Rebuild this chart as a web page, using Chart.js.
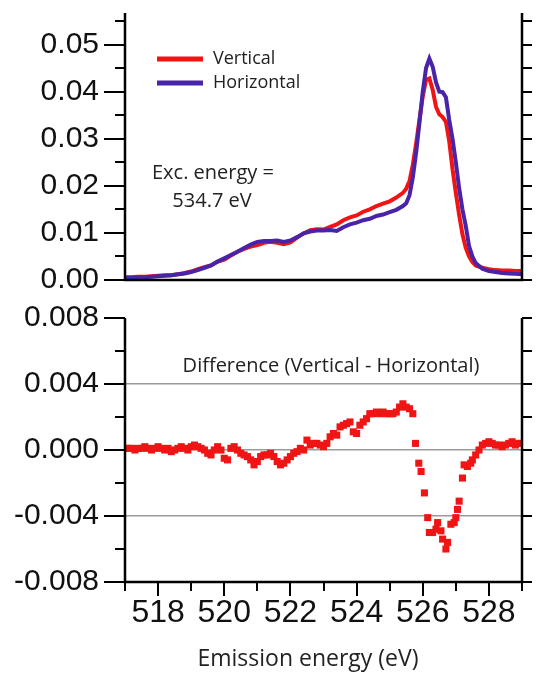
<!DOCTYPE html>
<html lang="en">
<head>
<meta charset="UTF-8">
<title>Emission spectra - Vertical vs Horizontal</title>
<script src="https://cdn.jsdelivr.net/npm/chart.js@4"></script>
<style>
    body { margin: 0; background: #fff; }
    #wrap { position: relative; width: 540px; height: 675px; }
    #wrap canvas { position: absolute; left: 0; }
    #spectra { top: 0; }
    #diff { top: 300px; }
</style>
</head>
<body>
<div id="wrap">
    <canvas id="spectra" width="540" height="300"></canvas>
    <canvas id="diff" width="540" height="375"></canvas>
</div>
<script>
// ---- data ----
const energy = [517.0, 517.2, 517.4, 517.6, 517.8, 518.0, 518.2, 518.4, 518.6, 518.8,
    519.0, 519.2, 519.4, 519.6, 519.8, 520.0, 520.2, 520.4, 520.6, 520.8,
    521.0, 521.2, 521.4, 521.6, 521.8, 522.0, 522.2, 522.4, 522.6, 522.8,
    523.0, 523.2, 523.4, 523.6, 523.8, 524.0, 524.2, 524.4, 524.6, 524.8,
    525.0, 525.2, 525.4, 525.5, 525.6, 525.7, 525.8, 525.9, 526.0, 526.1,
    526.2, 526.3, 526.4, 526.5, 526.6, 526.7, 526.8, 526.9, 527.0, 527.1,
    527.2, 527.3, 527.4, 527.5, 527.6, 527.8, 528.0, 528.2, 528.4, 528.6,
    528.8, 529.0];

const vertical = [0.0006, 0.0006, 0.0007, 0.0007, 0.0008, 0.0009, 0.0010, 0.0010, 0.0012, 0.0015,
    0.0018, 0.0023, 0.0027, 0.0031, 0.0039, 0.0043, 0.0052, 0.0060, 0.0066, 0.0071,
    0.0074, 0.0079, 0.0081, 0.0079, 0.0076, 0.0080, 0.0090, 0.0099, 0.0106, 0.0108,
    0.0107, 0.0113, 0.0118, 0.0127, 0.0133, 0.0137, 0.0145, 0.0150, 0.0157, 0.0162,
    0.0167, 0.0175, 0.0185, 0.0194, 0.0210, 0.0245, 0.0290, 0.0340, 0.0390, 0.0425,
    0.0428, 0.0404, 0.0368, 0.0352, 0.0346, 0.0336, 0.0295, 0.0235, 0.0185, 0.0138,
    0.0097, 0.0068, 0.0050, 0.0038, 0.0031, 0.0026, 0.0023, 0.0021, 0.0020, 0.0020,
    0.0019, 0.0019];

const horizontal = [0.0005, 0.0005, 0.0006, 0.0006, 0.0007, 0.0008, 0.0009, 0.0010, 0.0012, 0.0014,
    0.0017, 0.0021, 0.0026, 0.0031, 0.0039, 0.0046, 0.0053, 0.0060, 0.0068, 0.0075,
    0.0081, 0.0083, 0.0083, 0.0084, 0.0081, 0.0084, 0.0091, 0.0099, 0.0103, 0.0105,
    0.0105, 0.0106, 0.0104, 0.0112, 0.0118, 0.0122, 0.0127, 0.0130, 0.0136, 0.0139,
    0.0144, 0.0149, 0.0157, 0.0163, 0.0180, 0.0218, 0.0270, 0.0334, 0.0400, 0.0450,
    0.0470, 0.0453, 0.0420, 0.0400, 0.0399, 0.0388, 0.0340, 0.0300, 0.0250, 0.0195,
    0.0150, 0.0115, 0.0072, 0.0050, 0.0036, 0.0024, 0.0019, 0.0017, 0.0015, 0.0014,
    0.0013, 0.0012];

const diffEnergy = [517.0, 517.1, 517.2, 517.3, 517.4, 517.5, 517.6, 517.7, 517.8, 517.9,
    518.0, 518.1, 518.2, 518.3, 518.4, 518.5, 518.6, 518.7, 518.8, 518.9,
    519.0, 519.1, 519.2, 519.3, 519.4, 519.5, 519.6, 519.7, 519.8, 519.9,
    520.0, 520.1, 520.2, 520.3, 520.4, 520.5, 520.6, 520.7, 520.8, 520.9,
    521.0, 521.1, 521.2, 521.3, 521.4, 521.5, 521.6, 521.7, 521.8, 521.9,
    522.0, 522.1, 522.2, 522.3, 522.4, 522.5, 522.6, 522.7, 522.8, 522.9,
    523.0, 523.1, 523.2, 523.3, 523.4, 523.5, 523.6, 523.7, 523.8, 523.9,
    524.0, 524.1, 524.2, 524.3, 524.4, 524.5, 524.6, 524.7, 524.8, 524.9,
    525.0, 525.1, 525.2, 525.3, 525.4, 525.5, 525.6, 525.7, 525.78, 525.88,
    525.95, 526.05, 526.15, 526.2, 526.3, 526.4, 526.45, 526.55, 526.6, 526.7,
    526.75, 526.85, 526.95, 527.0, 527.05, 527.1, 527.2, 527.25, 527.35, 527.45,
    527.5, 527.6, 527.7, 527.8, 527.9, 528.0, 528.1, 528.2, 528.3, 528.4,
    528.5, 528.6, 528.7, 528.8, 528.9, 529.0];

const difference = [0.0001, 0.0001, 0.0001, 0.0000, 0.0001, 0.0001, 0.0002, 0.0001, 0.0000, 0.0001,
    0.0002, 0.0001, 0.0000, 0.0001, -0.0001, 0.0000, 0.0001, 0.0002, 0.0001, 0.0000,
    0.0002, 0.0003, 0.0002, 0.0001, 0.0000, -0.0002, -0.0003, 0.0000, 0.0002, 0.0000,
    -0.0005, -0.0006, 0.0001, 0.0002, 0.0000, -0.0002, -0.0003, -0.0004, -0.0006, -0.0009,
    -0.0007, -0.0004, -0.0003, -0.0003, -0.0002, -0.0004, -0.0007, -0.0009, -0.0008, -0.0006,
    -0.0004, -0.0002, -0.0001, 0.0001, 0.0000, 0.0006, 0.0003, 0.0004, 0.0004, 0.0003,
    0.0002, 0.0004, 0.0008, 0.0010, 0.0009, 0.0014, 0.0015, 0.0016, 0.0017, 0.0011,
    0.0010, 0.0015, 0.0017, 0.0019, 0.0022, 0.0022, 0.0023, 0.0022, 0.0023, 0.0022,
    0.0022, 0.0022, 0.0023, 0.0026, 0.0028, 0.0026, 0.0025, 0.0022, 0.0004, -0.0008,
    -0.0013, -0.0026, -0.0041, -0.0050, -0.0050, -0.0048, -0.0044, -0.0049, -0.0054, -0.0060,
    -0.0056, -0.0045, -0.0044, -0.0041, -0.0036, -0.0031, -0.0017, -0.0009, -0.0010, -0.0008,
    -0.0006, -0.0003, 0.0000, 0.0003, 0.0004, 0.0005, 0.0004, 0.0003, 0.0003, 0.0002,
    0.0003, 0.0004, 0.0005, 0.0003, 0.0004, 0.0004];

const spectraTicks = [0, 0.01, 0.02, 0.03, 0.04, 0.05];
const diffTicks = [-0.008, -0.004, 0, 0.004, 0.008];
const energyTicks = [518, 520, 522, 524, 526, 528];

const RED = '#f01414';
const PURPLE = '#4a24a8';
const tickFont = { family: 'Liberation Sans, Arial, sans-serif', size: 30 };
const textFont = 'Open Sans, sans-serif';

function pairs(xs, ys) {
    return xs.map((x, i) => ({ x: x, y: ys[i] }));
}

// axis frame with major/minor tick marks, placed with the chart's own scales
const framePlugin = {
    id: 'frame',
    afterDraw(chart, args, opts) {
        const { ctx, chartArea: a, scales: { x, y } } = chart;
        ctx.save();
        ctx.strokeStyle = '#000';
        ctx.lineWidth = 2.5;
        ctx.beginPath();
        ctx.moveTo(a.left, a.top); ctx.lineTo(a.left, a.bottom + 1.25);
        ctx.moveTo(a.right, a.top); ctx.lineTo(a.right, a.bottom + 1.25);
        ctx.moveTo(a.left - 1.25, a.bottom); ctx.lineTo(a.right + 1.25, a.bottom);
        ctx.stroke();

        ctx.lineWidth = 2;
        ctx.beginPath();
        const nY = Math.round((y.max - y.min) / opts.yMinor + 1e-6);
        for (let i = 0; i <= nY; i++) {
            const v = y.min + i * opts.yMinor;
            const q = v / opts.yMajor;
            const major = Math.abs(q - Math.round(q)) < 1e-6;
            const py = Math.round(y.getPixelForValue(v));
            if (py < a.top - 1) continue;
            ctx.moveTo(a.left, py); ctx.lineTo(a.left - (major ? 21 : 10), py);
            ctx.moveTo(a.right, py); ctx.lineTo(a.right + 10, py);
        }
        if (opts.xTicks) {
            for (let v = Math.ceil(x.min); v <= x.max; v++) {
                const px = Math.round(x.getPixelForValue(v));
                const major = v % 2 === 0;
                ctx.moveTo(px, a.bottom); ctx.lineTo(px, a.bottom + (major ? 14 : 9));
            }
        }
        ctx.stroke();
        ctx.restore();
    }
};

// free text and legend samples
const notesPlugin = {
    id: 'notes',
    afterDraw(chart, args, opts) {
        const ctx = chart.ctx;
        ctx.save();
        (opts.lines || []).forEach(l => {
            ctx.strokeStyle = l.color;
            ctx.lineWidth = 5;
            ctx.beginPath();
            ctx.moveTo(l.x1, l.y); ctx.lineTo(l.x2, l.y);
            ctx.stroke();
        });
        ctx.fillStyle = '#222';
        ctx.textBaseline = 'middle';
        (opts.texts || []).forEach(t => {
            ctx.font = t.size + 'px ' + textFont;
            ctx.textAlign = t.align || 'center';
            ctx.fillText(t.text, t.x, t.y);
        });
        ctx.restore();
    }
};

// ---- top panel: spectra ----
new Chart(document.getElementById('spectra'), {
    type: 'line',
    data: {
        datasets: [
            { label: 'Horizontal', data: pairs(energy, horizontal), borderColor: PURPLE, borderWidth: 4, pointRadius: 0, order: 1 },
            { label: 'Vertical', data: pairs(energy, vertical), borderColor: RED, borderWidth: 4, pointRadius: 0, order: 2 }
        ]
    },
    options: {
        responsive: false,
        animation: false,
        layout: { padding: { left: 0, right: 18, top: 13, bottom: 20 } },
        plugins: {
            legend: { display: false },
            tooltip: { enabled: false },
            frame: { yMinor: 0.005, yMajor: 0.01, xTicks: false },
            notes: {
                lines: [
                    { x1: 157, x2: 203, y: 59, color: RED },
                    { x1: 157, x2: 203, y: 83, color: PURPLE }
                ],
                texts: [
                    { text: 'Vertical', x: 213, y: 59, size: 18, align: 'left' },
                    { text: 'Horizontal', x: 213, y: 83, size: 18, align: 'left' },
                    { text: 'Exc. energy =', x: 213, y: 173, size: 20 },
                    { text: '534.7 eV', x: 212, y: 201, size: 20 }
                ]
            }
        },
        scales: {
            x: {
                type: 'linear', min: 517, max: 529,
                ticks: { display: false },
                grid: { display: false, drawTicks: false },
                border: { display: false },
                afterFit: s => { s.height = 0; s.paddingLeft = 0; s.paddingRight = 0; }
            },
            y: {
                min: 0, max: 0.0567,
                afterBuildTicks: s => { s.ticks = spectraTicks.map(v => ({ value: v })); },
                ticks: { font: tickFont, color: '#111', padding: 26, callback: v => Number(v).toFixed(2) },
                grid: { display: false, drawTicks: false },
                border: { display: false },
                afterFit: s => { s.width = 125; s.paddingTop = 0; s.paddingBottom = 0; }
            }
        }
    },
    plugins: [framePlugin, notesPlugin]
});

// ---- bottom panel: difference ----
new Chart(document.getElementById('diff'), {
    type: 'scatter',
    data: {
        datasets: [
            { label: 'Difference', data: pairs(diffEnergy, difference), backgroundColor: RED, borderWidth: 0, pointStyle: 'rect', pointRadius: 5 }
        ]
    },
    options: {
        responsive: false,
        animation: false,
        layout: { padding: { left: 0, right: 18, top: 18, bottom: 0 } },
        plugins: {
            legend: { display: false },
            tooltip: { enabled: false },
            frame: { yMinor: 0.002, yMajor: 0.004, xTicks: true },
            notes: {
                texts: [
                    { text: 'Difference (Vertical - Horizontal)', x: 331, y: 66, size: 20 },
                    { text: 'Emission energy (eV)', x: 308, y: 359, size: 23 }
                ]
            }
        },
        scales: {
            x: {
                type: 'linear', min: 517, max: 529,
                afterBuildTicks: s => { s.ticks = energyTicks.map(v => ({ value: v })); },
                ticks: { font: { family: tickFont.family, size: 32 }, color: '#111', padding: 12, maxRotation: 0, callback: v => String(v) },
                grid: { display: false, drawTicks: false },
                border: { display: false },
                afterFit: s => { s.height = 93; s.paddingLeft = 0; s.paddingRight = 0; }
            },
            y: {
                min: -0.008, max: 0.008,
                afterBuildTicks: s => { s.ticks = diffTicks.map(v => ({ value: v })); },
                ticks: { font: tickFont, color: '#111', padding: 26, callback: v => Number(v).toFixed(3) },
                grid: {
                    drawTicks: false,
                    lineWidth: 1.5,
                    color: c => (c.tick && Math.abs(c.tick.value) < 0.006) ? '#9a9a9a' : 'rgba(0,0,0,0)'
                },
                border: { display: false },
                afterFit: s => { s.width = 125; s.paddingTop = 0; s.paddingBottom = 0; }
            }
        }
    },
    plugins: [framePlugin, notesPlugin]
});
</script>
</body>
</html>
